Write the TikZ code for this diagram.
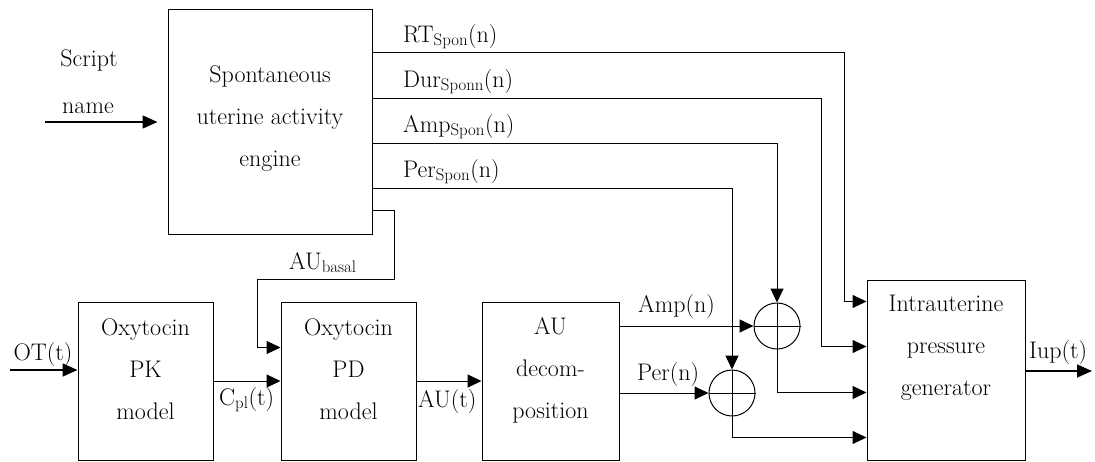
\documentclass[tikz,border=0pt]{standalone}
\usetikzlibrary{arrows.meta,calc}
\tikzstyle{every node}=[font=\fontsize{24}{42}\selectfont, inner sep=0pt]
\tikzstyle{block}=[draw, line width=1pt, minimum width=135pt, minimum height=158pt]
\tikzstyle{blocktext}=[align=center]
\tikzstyle{sum}=[draw, circle, line width=1pt, minimum size=46pt]
\tikzstyle{wire}=[line width=1pt]
\tikzstyle{sig}=[line width=1pt, -{Triangle[length=14pt,width=13pt]}]
\tikzstyle{io}=[line width=1.6pt, -{Triangle[length=15pt,width=13pt]}]

\begin{document}
\begin{tikzpicture}[x=1pt, y=-1pt]
\useasboundingbox (0,0) rectangle (1095,461);
% Blocks
    \node[block, minimum width=204pt, minimum height=225pt] (spon) at (270,121.5) {};
    \node[block] (pk) at (145.5,381) {};
    \node[block] (pd) at (348.5,381) {};
    \node[block, minimum width=137pt] (aud) at (550.5,381) {};
    \node[block, minimum width=158pt, minimum height=180pt] (iup) at (946,370) {};
    \node[blocktext] (spontext) at (270,119) {Spontaneous\\uterine activity\\engine};
    \node[blocktext] (pktext) at (145.5,369) {Oxytocin\\PK\\model};
    \node[blocktext] (pdtext) at (348.5,369) {Oxytocin\\PD\\model};
    \node[blocktext] (audtext) at (550.5,370) {AU\\decom-\\position};
    \node[blocktext] (iuptext) at (946,348) {Intrauterine\\pressure\\generator};
% Summing points
    \node[sum] (sum1) at (777,326) {};
    \node[sum] (sum2) at (732,393) {};
    \draw[wire] (sum1.north) -- (sum1.south) (sum1.west) -- (sum1.east);
    \draw[wire] (sum2.north) -- (sum2.south) (sum2.west) -- (sum2.east);
% Ports
    \coordinate (rt) at ($(spon.north east)+(0,44)$);
    \coordinate (dur) at ($(spon.north east)+(0,90)$);
    \coordinate (amps) at ($(spon.north east)+(0,135)$);
    \coordinate (pers) at ($(spon.north east)+(0,180)$);
    \coordinate (bas) at ($(spon.north east)+(0,202)$);
    \coordinate (in1) at ($(iup.north west)+(0,22)$);
    \coordinate (in2) at ($(iup.north west)+(0,67)$);
    \coordinate (in3) at ($(iup.north west)+(0,113)$);
    \coordinate (in4) at ($(iup.north west)+(0,158)$);
    \coordinate (pdin) at ($(pd.north west)+(0,46)$);
    \coordinate (scr) at (45,122);
    \coordinate (ot) at (10,370);
    \coordinate (out) at (1092,371);
% Signals
    \draw[io] (scr) -- ($(spon.west |- scr)+(-10,0)$);
    \draw[io] (ot) -- (pk.west |- ot);
    \draw[io] (iup.east |- out) -- (out);
    \draw[sig] (rt) -| ($(in1)+(-22,0)$) -- (in1);
    \draw[sig] (dur) -| ($(in2)+(-45,0)$) -- (in2);
    \draw[sig] (amps) -| (sum1.north);
    \draw[sig] (pers) -| (sum2.north);
    \draw[sig] (sum1.south) |- (in3);
    \draw[sig] (sum2.south) |- (in4);
    \draw[sig] (aud.east |- sum1) -- (sum1.west);
    \draw[sig] (aud.east |- sum2) -- (sum2.west);
    \draw[sig] (bas) -- ++(22,0) -- ++(0,69) -| ($(pdin)+(-23,0)$) -- (pdin);
    \draw[sig] (pk.east) -- (pd.west);
    \draw[sig] (pd.east) -- (aud.west);
% Labels
    \node[anchor=base] (scrlbl1) at (89,66) {Script};
    \node[anchor=base] (scrlbl2) at (88,113) {name};
    \node[anchor=base west] (rtlbl) at (403,42) {RT\textsubscript{Spon}(n)};
    \node[anchor=base west] (durlbl) at (403,87) {Dur\textsubscript{Sponn}(n)};
    \node[anchor=base west] (ampslbl) at (403,132) {Amp\textsubscript{Spon}(n)};
    \node[anchor=base west] (perslbl) at (403,177) {Per\textsubscript{Spon}(n)};
    \node[anchor=base west] (baslbl) at (289,269) {AU\textsubscript{basal}};
    \node[anchor=base] (otlbl) at (43,360) {OT(t)};
    \node[anchor=base west] (cpllbl) at (219,405) {C\textsubscript{pl}(t)};
    \node[anchor=base west] (aulbl) at (418,407) {AU(t)};
    \node[anchor=base west] (amplbl) at (638,312) {Amp(n)};
    \node[anchor=base west] (perlbl) at (637,380) {Per(n)};
    \node[anchor=base west] (iuplbl) at (1029,358) {Iup(t)};
\end{tikzpicture}
\end{document}
